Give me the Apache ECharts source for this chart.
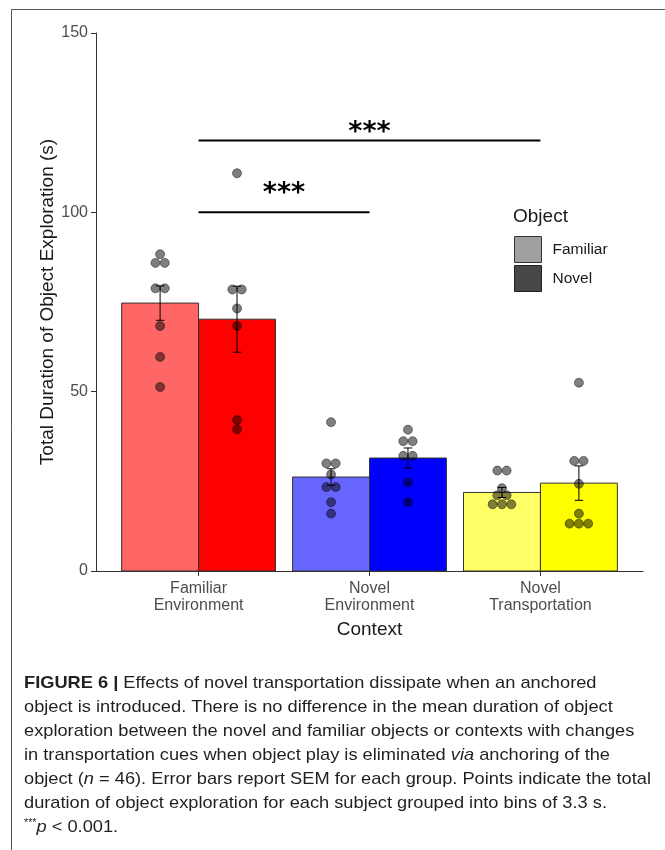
<!DOCTYPE html>
<html><head><meta charset="utf-8">
<script src="https://cdn.jsdelivr.net/npm/echarts@6/dist/echarts.min.js"></script>
<style>html,body{margin:0;padding:0;background:#fff}#c{width:665px;height:850px}</style>
</head><body><div id="c"></div>
<script>
// ---- data ----
const categories = ['Familiar\nEnvironment', 'Novel\nEnvironment', 'Novel\nTransportation'];
const objectTypes = ['Familiar', 'Novel'];
const familiarMeans = [74.7, 26.2, 21.9];
const novelMeans = [70.2, 31.5, 24.5];
const familiarSEM = [4.8, 2.3, 1.4];
const novelSEM = [9.2, 2.8, 4.8];
const familiarDots = [
  [88.3, 85.9, 85.9, 78.8, 78.8, 68.3, 59.7, 51.3],
  [41.5, 30.0, 30.0, 26.9, 23.4, 23.4, 19.2, 16.0],
  [28.0, 28.0, 23.1, 21.1, 21.1, 18.6, 18.6, 18.6]
];
const novelDots = [
  [110.9, 78.5, 78.5, 73.2, 68.3, 42.1, 39.5],
  [39.4, 36.2, 36.2, 32.1, 32.1, 24.7, 19.2],
  [52.5, 30.7, 30.7, 24.3, 16.0, 13.2, 13.2, 13.2]
];
const yTicks = [0, 50, 100, 150];
// [from category, to category, line value, label value, label]
const comparisons = [[1, 3, 120, 123.5, '***'], [1, 2, 100, 106.5, '***']];
const captionLines = [
  '{b|FIGURE 6 |} Effects of novel transportation dissipate when an anchored',
  'object is introduced. There is no difference in the mean duration of object',
  'exploration between the novel and familiar objects or contexts with changes',
  'in transportation cues when object play is eliminated {i|via} anchoring of the',
  'object ({i|n} = 46). Error bars report SEM for each group. Points indicate the total',
  'duration of object exploration for each subject grouped into bins of 3.3 s.',
  '{s|***}{i|p} < 0.001.'
];

// ---- styling ----
const FONT = '"Liberation Sans", Arial, sans-serif';
const familiarColors = ['#FF6666', '#6666FF', '#FFFF66'];
const novelColors = ['#FF0000', '#0000FF', '#FFFF00'];
const HALF = 0.225;      // half bar width (axis units)
const DOT_STEP = 0.0545; // horizontal dot spacing (axis units)

function barSeries(name, means, colors, sign) {
  return {
    type: 'custom', name: name, z: 2,
    data: means.map((m, i) => [i + 1 + sign * HALF, m]),
    renderItem: function (params, api) {
      const x = api.value(0), y = api.value(1);
      const p0 = api.coord([x - HALF, y]);
      const p1 = api.coord([x + HALF, 0]);
      return { type: 'rect',
        shape: { x: p0[0], y: p0[1], width: p1[0] - p0[0], height: p1[1] - p0[1] },
        style: { fill: colors[params.dataIndex], stroke: '#333', lineWidth: 1 } };
    }
  };
}
function errSeries(means, sems, sign) {
  return {
    type: 'custom', name: 'err', z: 3, silent: true,
    data: means.map((m, i) => [i + 1 + sign * HALF, m - sems[i], m + sems[i]]),
    renderItem: function (params, api) {
      const x = api.value(0);
      const lo = api.coord([x, api.value(1)]);
      const hi = api.coord([x, api.value(2)]);
      const c = api.coord([x + 0.025, 0])[0] - api.coord([x, 0])[0];
      const st = { stroke: '#000', lineWidth: 1 };
      return { type: 'group', children: [
        { type: 'line', shape: { x1: lo[0], y1: lo[1], x2: hi[0], y2: hi[1] }, style: st },
        { type: 'line', shape: { x1: lo[0] - c, y1: lo[1], x2: lo[0] + c, y2: lo[1] }, style: st },
        { type: 'line', shape: { x1: hi[0] - c, y1: hi[1], x2: hi[0] + c, y2: hi[1] }, style: st }
      ] };
    }
  };
}
function dotData(groups, sign) {
  const out = [];
  groups.forEach((vals, i) => {
    const counts = {};
    vals.forEach(v => { counts[v] = (counts[v] || 0) + 1; });
    Object.keys(counts).forEach(k => {
      const n = counts[k];
      for (let j = 0; j < n; j++) {
        out.push([i + 1 + sign * HALF + (j - (n - 1) / 2) * DOT_STEP, +k]);
      }
    });
  });
  return out;
}
function dotSeries(groups, sign) {
  return {
    type: 'scatter', name: 'dots', z: 4, symbol: 'circle', symbolSize: 9,
    data: dotData(groups, sign),
    itemStyle: { color: 'rgba(0,0,0,0.5)', borderColor: 'rgba(0,0,0,0.55)', borderWidth: 0.8, opacity: 1 }
  };
}
const sigSeries = {
  type: 'custom', name: 'sig', z: 5, silent: true,
  data: comparisons.map(c => [c[0], c[1], c[2], c[3]]),
  renderItem: function (params, api) {
    const a = api.coord([api.value(0), api.value(2)]);
    const b = api.coord([api.value(1), api.value(2)]);
    const t = api.coord([api.value(0), api.value(3)]);
    return { type: 'group', children: [
      { type: 'line', shape: { x1: a[0], y1: a[1], x2: b[0], y2: b[1] }, style: { stroke: '#000', lineWidth: 2 } },
      { type: 'text', x: (a[0] + b[0]) / 2, y: t[1] + 5,
        style: { text: comparisons[params.dataIndex][4], fill: '#000', align: 'center', verticalAlign: 'middle',
          font: 'bold 27px "DejaVu Sans", sans-serif' } }
    ] };
  }
};

// caption scaling to match the reference text width
const mctx = document.createElement('canvas').getContext('2d');
mctx.font = '17px "Liberation Sans"';
const refLine = 'object (n = 46). Error bars report SEM for each group. Points indicate the total';
const capScale = 627 / mctx.measureText(refLine).width;
const captionY = [683, 707, 731, 755, 779, 803, 827];
const captionGraphics = captionLines.map((t, k) => ({
  type: 'text', x: 24, y: captionY[k], scaleX: capScale,
  style: { text: t, fill: '#231f20', font: '17px "Liberation Sans"', verticalAlign: 'middle',
    rich: {
      b: { fontWeight: 'bold', fontSize: 17, fontFamily: 'Liberation Sans', fill: '#231f20' },
      i: { fontStyle: 'italic', fontSize: 17, fontFamily: 'Liberation Sans', fill: '#231f20' },
      s: { fontSize: 10, fontFamily: 'Liberation Sans', fill: '#231f20', verticalAlign: 'top', padding: [0, 0, 6, 0] }
    } }
}));

const chart = echarts.init(document.getElementById('c'), null, { renderer: 'canvas' });
chart.setOption({
  animation: false,
  backgroundColor: '#fff',
  textStyle: { fontFamily: FONT },
  grid: { left: 96, right: 22, top: 33, bottom: 279, containLabel: false },
  xAxis: {
    type: 'value', min: 0.4, max: 3.6,
    axisLine: { show: true, onZero: false, lineStyle: { color: '#333', width: 1 } },
    axisTick: { show: true, customValues: [1, 2, 3], length: 5, lineStyle: { color: '#333' } },
    axisLabel: { customValues: [1, 2, 3], formatter: v => categories[Math.round(v) - 1],
      color: '#4d4d4d', fontSize: 16, lineHeight: 17, margin: 9, fontFamily: FONT },
    splitLine: { show: false },
    name: 'Context', nameLocation: 'middle', nameGap: 49, nameMoveOverlap: false,
    nameTextStyle: { fontSize: 19, color: '#1a1a1a', fontFamily: FONT }
  },
  yAxis: {
    type: 'value', min: yTicks[0], max: yTicks[yTicks.length - 1], interval: 50,
    axisLine: { show: true, lineStyle: { color: '#333', width: 1 } },
    axisTick: { show: true, length: 5, lineStyle: { color: '#333' } },
    axisLabel: { color: '#4d4d4d', fontSize: 16, margin: 8, fontFamily: FONT },
    splitLine: { show: false },
    name: 'Total Duration of Object Exploration (s)', nameLocation: 'middle', nameGap: 39,
    nameMoveOverlap: false,
    nameTextStyle: { fontSize: 19, color: '#1a1a1a', fontFamily: FONT }
  },
  legend: {
    orient: 'vertical', left: 509, top: 231, itemWidth: 27, itemHeight: 26, itemGap: 2,
    icon: 'rect', selectedMode: false,
    textStyle: { fontSize: 15.5, color: '#1a1a1a', fontFamily: FONT, padding: [0, 0, 0, 6] },
    data: [
      { name: objectTypes[0], itemStyle: { color: '#A0A0A0', borderColor: '#333', borderWidth: 1 } },
      { name: objectTypes[1], itemStyle: { color: '#474747', borderColor: '#222', borderWidth: 1 } }
    ]
  },
  graphic: [
    { type: 'rect', shape: { x: 11.5, y: 9.5, width: 800, height: 1000 }, style: { fill: 'none', stroke: '#555', lineWidth: 1 }, z: -1 },
    { type: 'text', x: 513, y: 217, style: { text: 'Object', fill: '#1a1a1a', font: '19px "Liberation Sans"', verticalAlign: 'middle' } }
  ].concat(captionGraphics),
  series: [
    barSeries(objectTypes[0], familiarMeans, familiarColors, -1),
    barSeries(objectTypes[1], novelMeans, novelColors, 1),
    errSeries(familiarMeans, familiarSEM, -1),
    errSeries(novelMeans, novelSEM, 1),
    dotSeries(familiarDots, -1),
    dotSeries(novelDots, 1),
    sigSeries
  ]
});
</script></body></html>
